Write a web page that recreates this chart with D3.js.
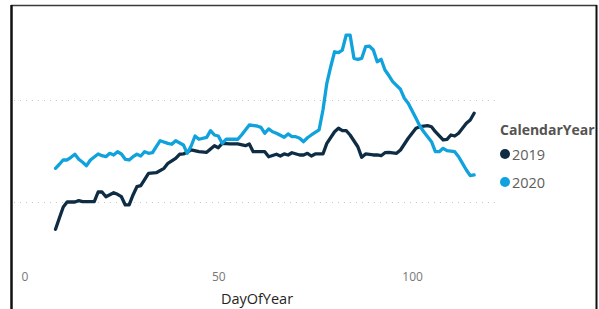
<!DOCTYPE html>
<html>
<head>
<meta charset="utf-8">
<script src="https://cdn.jsdelivr.net/npm/d3@7"></script>
<style>
  html, body { margin: 0; padding: 0; background: #fff; }
  svg { display: block; font-family: "Segoe UI", "Open Sans", "Noto Sans", sans-serif; }
</style>
</head>
<body>
<svg id="chart" width="599" height="309"></svg>
<script>
// ---- data ----
const seriesNames = ["2019", "2020"];
const days2019 = [8, 9, 10, 11, 13, 14, 15, 18, 19, 20, 21, 23, 24, 25, 26, 27, 28, 29, 30, 32, 34, 36, 37, 39, 40, 41, 43, 45, 47, 49, 50, 51, 53, 55, 57, 58, 59, 62, 63, 65, 66, 67, 68, 69, 71, 72, 73, 74, 75, 77, 78, 80, 81, 82, 83, 84, 86, 87, 88, 90, 91, 92, 93, 94, 96, 97, 99, 100, 101, 102, 104, 105, 106, 108, 109, 110, 111, 112, 114, 115, 116];
const values2019 = [732, 843, 951, 1000, 1000, 1013, 1003, 1003, 1098, 1098, 1052, 1091, 1075, 1052, 971, 971, 1069, 1150, 1160, 1281, 1287, 1330, 1379, 1428, 1468, 1471, 1510, 1493, 1487, 1552, 1532, 1575, 1569, 1569, 1552, 1569, 1493, 1493, 1444, 1468, 1451, 1471, 1461, 1483, 1461, 1461, 1477, 1451, 1471, 1471, 1575, 1689, 1723, 1699, 1699, 1657, 1542, 1438, 1471, 1461, 1461, 1454, 1483, 1487, 1477, 1510, 1625, 1674, 1723, 1738, 1748, 1738, 1689, 1608, 1615, 1657, 1647, 1674, 1772, 1804, 1870];
const days2020 = [8, 9, 10, 11, 12, 13, 14, 15, 16, 17, 19, 20, 21, 22, 23, 24, 25, 26, 27, 28, 29, 30, 31, 32, 33, 34, 35, 37, 38, 39, 41, 42, 43, 44, 45, 47, 48, 49, 50, 51, 52, 54, 55, 56, 58, 60, 61, 62, 63, 64, 65, 67, 68, 69, 70, 71, 72, 73, 74, 76, 77, 78, 79, 80, 81, 82, 83, 84, 85, 86, 87, 88, 89, 90, 91, 92, 93, 94, 95, 97, 98, 99, 101, 102, 103, 105, 106, 107, 108, 109, 111, 112, 113, 114, 115, 116];
const values2020 = [1330, 1370, 1412, 1412, 1438, 1468, 1419, 1390, 1356, 1412, 1471, 1454, 1444, 1477, 1461, 1493, 1471, 1419, 1412, 1444, 1468, 1451, 1493, 1477, 1483, 1542, 1601, 1575, 1566, 1601, 1559, 1477, 1549, 1647, 1615, 1634, 1699, 1657, 1647, 1575, 1615, 1615, 1615, 1657, 1755, 1745, 1732, 1674, 1716, 1689, 1674, 1634, 1667, 1640, 1640, 1625, 1591, 1630, 1657, 1706, 1902, 2164, 2326, 2473, 2464, 2490, 2637, 2637, 2409, 2399, 2409, 2523, 2529, 2490, 2375, 2399, 2294, 2240, 2180, 2105, 2017, 1968, 1821, 1745, 1689, 1591, 1493, 1493, 1526, 1503, 1493, 1444, 1379, 1314, 1258, 1265];
const xTicks = [0, 50, 100];
const gridValues = [1000, 2000];
const xTitle = "DayOfYear";
const legendTitle = "CalendarYear";
const colors = ["#0e2d45", "#10a2dc"];

// ---- build ----
const series = [
  days2019.map((d, i) => ({ day: d, value: values2019[i] })),
  days2020.map((d, i) => ({ day: d, value: values2020[i] }))
];

const svg = d3.select("#chart");

const x = d3.scaleLinear().domain([0, 100]).range([24.5, 412.1]);
const y = d3.scaleLinear().domain([1000, 2000]).range([202, 100]);

// frame
svg.append("line").attr("x1", 11).attr("x2", 597).attr("y1", 5.5).attr("y2", 5.5)
  .attr("stroke", "#3a3a3a").attr("stroke-width", 1.5);
svg.append("line").attr("x1", 11.5).attr("x2", 11.5).attr("y1", 5).attr("y2", 309)
  .attr("stroke", "#111").attr("stroke-width", 2.5);
svg.append("line").attr("x1", 596.5).attr("x2", 596.5).attr("y1", 5).attr("y2", 309)
  .attr("stroke", "#111").attr("stroke-width", 2);

// gridlines
svg.append("g").selectAll("line").data(gridValues).join("line")
  .attr("x1", 14).attr("x2", 495)
  .attr("y1", d => Math.round(y(d)) + 0.5).attr("y2", d => Math.round(y(d)) + 0.5)
  .attr("stroke", "#c8c8c8").attr("stroke-width", 1)
  .attr("stroke-dasharray", "1,5");

// x axis (labels only)
const xAxis = d3.axisBottom(x).tickValues(xTicks).tickSize(0).tickPadding(0);
const gx = svg.append("g").attr("transform", "translate(0,272)").call(xAxis);
gx.select(".domain").remove();
gx.selectAll("text").attr("fill", "#777").attr("font-size", 12)
  .attr("font-family", "'Segoe UI', 'Open Sans', sans-serif");

svg.append("text").attr("x", 257).attr("y", 304).attr("text-anchor", "middle")
  .attr("fill", "#252423").attr("font-size", 14.5).text(xTitle);

// lines
const line = d3.line().x(d => x(d.day)).y(d => y(d.value));
svg.append("g").selectAll("path").data(series).join("path")
  .attr("d", line)
  .attr("fill", "none")
  .attr("stroke", (d, i) => colors[i])
  .attr("stroke-width", 3.3)
  .attr("stroke-linejoin", "round")
  .attr("stroke-linecap", "round");

// legend
const lg = svg.append("g");
lg.append("text").attr("x", 500).attr("y", 135).attr("font-size", 14)
  .attr("font-weight", "bold").attr("fill", "#555351").text(legendTitle);
const items = lg.selectAll("g.item").data(seriesNames).join("g").attr("class", "item")
  .attr("transform", (d, i) => `translate(0,${154 + i * 28})`);
items.append("circle").attr("cx", 505).attr("cy", 0).attr("r", 5).attr("fill", (d, i) => colors[i]);
items.append("text").attr("x", 512).attr("y", 5.5).attr("font-size", 14.5)
  .attr("fill", "#605e5c").text(d => d);
</script>
</body>
</html>
